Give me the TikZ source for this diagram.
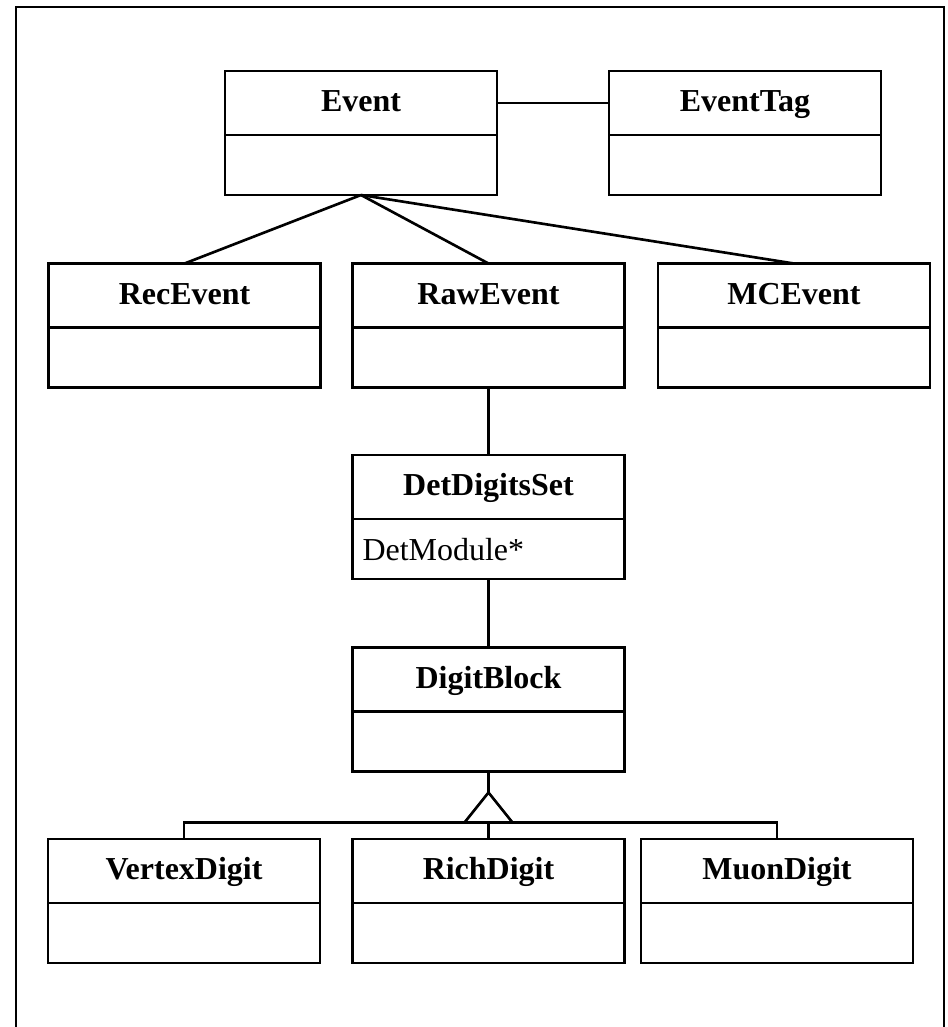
\documentclass[tikz,border=0pt]{standalone}
\usepackage{fontspec}
\setmainfont{Liberation Serif}
\usepackage{tikz}
\usetikzlibrary{positioning}

\begin{document}
\begin{tikzpicture}[
  line width=1.5pt,
  cabeza/.style={draw, rectangle, outer sep=0pt, inner sep=0pt, minimum width=5.44cm, minimum height=1.28cm, text height=0.46cm, text depth=0.12cm, font=\fontsize{18.2}{22}\selectfont\bfseries},
  cuerpo/.style={draw, rectangle, outer sep=0pt, inner xsep=0.2cm, inner ysep=0pt, minimum width=5.44cm, minimum height=1.2cm, text width=5.04cm, text height=0.5cm, text depth=0.06cm, align=left, font=\fontsize{18.2}{22}\selectfont},
  enlace/.style={line width=1.5pt}
]
\useasboundingbox (0,0) rectangle (18.96,-20.54);
\begin{scope}
\clip (0,0) rectangle (18.96,-20.54);
\draw (0.32,-22) -- (0.32,-0.14) -- (18.88,-0.14) -- (18.88,-22);
\end{scope}

% fila superior
\node[cabeza] (ev) at (7.22,-2.06) {Event};
\node[cuerpo, below=0pt of ev] (ev-b) {};
\node[cabeza] (tag) at (14.9,-2.06) {EventTag};
\node[cuerpo, below=0pt of tag] (tag-b) {};

% eventos
\node[cabeza] (rec) at (3.69,-5.91) {RecEvent};
\node[cuerpo, below=0pt of rec] (rec-b) {};
\node[cabeza] (raw) at (9.77,-5.91) {RawEvent};
\node[cuerpo, below=0pt of raw] (raw-b) {};
\node[cabeza] (mc) at (15.88,-5.91) {MCEvent};
\node[cuerpo, below=0pt of mc] (mc-b) {};

% digitos
\node[cabeza] (dds) at (9.77,-9.74) {DetDigitsSet};
\node[cuerpo, below=0pt of dds] (dds-b) {DetModule*};
\node[cabeza] (db) at (9.77,-13.59) {DigitBlock};
\node[cuerpo, below=0pt of db] (db-b) {};

% subclases
\node[cabeza] (vtx) at (3.68,-17.42) {VertexDigit};
\node[cuerpo, below=0pt of vtx] (vtx-b) {};
\node[cabeza] (rich) at (9.77,-17.42) {RichDigit};
\node[cuerpo, below=0pt of rich] (rich-b) {};
\node[cabeza] (muon) at (15.54,-17.42) {MuonDigit};
\node[cuerpo, below=0pt of muon] (muon-b) {};

\draw[enlace] (ev.east) -- (tag.west);
\draw[enlace] (ev-b.south) -- (rec.north);
\draw[enlace] (ev-b.south) -- (raw.north);
\draw[enlace] (ev-b.south) -- (mc.north);
\draw[enlace] (raw-b.south) -- (dds.north);
\draw[enlace] (dds-b.south) -- (db.north);

% herencia
\coordinate[below=0.42cm of db-b] (punta);
\coordinate[below=0.6cm of punta] (base);
\draw[enlace] (db-b.south) -- (punta);
\draw[enlace] (punta) -- ++(-0.48,-0.6) coordinate (base-izq) -- ++(0.96,0) coordinate (base-der) -- cycle;
\draw[enlace] (base) -- (base |- rich.north);
\draw[enlace] (base-izq) -| (vtx.north);
\draw[enlace] (base-der) -| (muon.north);
\end{tikzpicture}
\end{document}
